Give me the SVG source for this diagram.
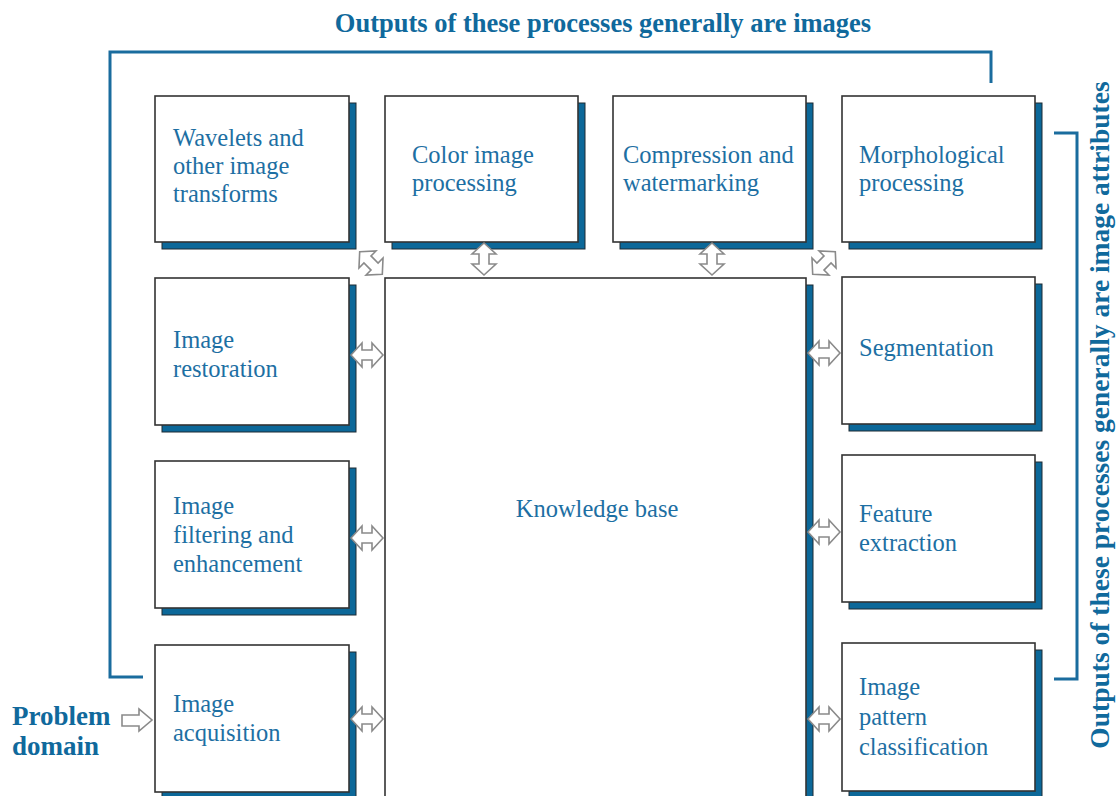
<svg xmlns="http://www.w3.org/2000/svg" width="1116" height="796" viewBox="0 0 1116 796">
<style>
.box{fill:#fff;stroke:#333;stroke-width:1.6}
.sh{fill:#0c6899;stroke:#1c2a33;stroke-width:1}
.t{font-family:"Liberation Serif","Times New Roman",serif;font-size:24.5px;fill:#1d6fa3}
.b{font-family:"Liberation Serif","Times New Roman",serif;font-weight:bold;fill:#10699c}
.br{fill:none;stroke:#1a6c9e;stroke-width:3}
.ar{fill:#fff;stroke:#8a8a8a;stroke-width:1.6;stroke-linejoin:miter}
</style>
<defs>
<path id="da" d="M-16,0 L-5,-12 L-5,-5 L5,-5 L5,-12 L16,0 L5,12 L5,5 L-5,5 L-5,12 Z"/>
</defs>
<rect width="1116" height="796" fill="#fff"/>

<g id="brackets">
<path class="br" d="M143,677 H110 V52 H991 V83"/>
<path class="br" d="M1054,133 H1077 V679 H1054"/>
</g>
<text class="b" x="603" y="32" font-size="26.5" text-anchor="middle">Outputs of these processes generally are images</text>
<text class="b" transform="translate(1109,415) rotate(-90)" font-size="27.5" text-anchor="middle">Outputs of these processes generally are image attributes</text>

<g id="problem-domain">
<text class="b" x="12" y="725" font-size="27">Problem</text>
<text class="b" x="12" y="755" font-size="27">domain</text>
</g>

<g id="knowledge-base">
<rect class="sh" x="392" y="285" width="421" height="530"/>
<rect class="box" x="385" y="278" width="421" height="530"/>
<text class="t" x="597" y="517" text-anchor="middle">Knowledge base</text>
</g>

<g id="wavelets">
<rect class="sh" x="162" y="103" width="194" height="146"/>
<rect class="box" x="155" y="96" width="194" height="146"/>
<text class="t" x="173" y="146">Wavelets and</text>
<text class="t" x="173" y="174">other image</text>
<text class="t" x="173" y="202">transforms</text>
</g>
<g id="color">
<rect class="sh" x="392" y="103" width="193" height="146"/>
<rect class="box" x="385" y="96" width="193" height="146"/>
<text class="t" x="412" y="163">Color image</text>
<text class="t" x="412" y="191">processing</text>
</g>
<g id="compression">
<rect class="sh" x="620" y="103" width="193" height="146"/>
<rect class="box" x="613" y="96" width="193" height="146"/>
<text class="t" x="623" y="163">Compression and</text>
<text class="t" x="623" y="191">watermarking</text>
</g>
<g id="morphological">
<rect class="sh" x="849" y="103" width="193" height="146"/>
<rect class="box" x="842" y="96" width="193" height="146"/>
<text class="t" x="859" y="163">Morphological</text>
<text class="t" x="859" y="191">processing</text>
</g>
<g id="restoration">
<rect class="sh" x="162" y="285" width="194" height="147"/>
<rect class="box" x="155" y="278" width="194" height="147"/>
<text class="t" x="173" y="348">Image</text>
<text class="t" x="173" y="377">restoration</text>
</g>
<g id="segmentation">
<rect class="sh" x="849" y="284" width="193" height="147"/>
<rect class="box" x="842" y="277" width="193" height="147"/>
<text class="t" x="859" y="356">Segmentation</text>
</g>
<g id="filtering">
<rect class="sh" x="162" y="468" width="194" height="147"/>
<rect class="box" x="155" y="461" width="194" height="147"/>
<text class="t" x="173" y="514">Image</text>
<text class="t" x="173" y="543">filtering and</text>
<text class="t" x="173" y="572">enhancement</text>
</g>
<g id="feature">
<rect class="sh" x="849" y="462" width="193" height="147"/>
<rect class="box" x="842" y="455" width="193" height="147"/>
<text class="t" x="859" y="522">Feature</text>
<text class="t" x="859" y="551">extraction</text>
</g>
<g id="acquisition">
<rect class="sh" x="162" y="652" width="194" height="147"/>
<rect class="box" x="155" y="645" width="194" height="147"/>
<text class="t" x="173" y="712">Image</text>
<text class="t" x="173" y="741">acquisition</text>
</g>
<g id="classification">
<rect class="sh" x="849" y="650" width="193" height="148"/>
<rect class="box" x="842" y="643" width="193" height="148"/>
<text class="t" x="859" y="695">Image</text>
<text class="t" x="859" y="725">pattern</text>
<text class="t" x="859" y="755">classification</text>
</g>

<g id="connectors">
<path class="ar" d="M122,715 H139 V709 L152,720 L139,731 V726 H122 Z"/>
<use href="#da" class="ar" transform="translate(367,355)"/>
<use href="#da" class="ar" transform="translate(367,538)"/>
<use href="#da" class="ar" transform="translate(367,719)"/>
<use href="#da" class="ar" transform="translate(824,353)"/>
<use href="#da" class="ar" transform="translate(824,532)"/>
<use href="#da" class="ar" transform="translate(824,719)"/>
<use href="#da" class="ar" transform="translate(484,259) rotate(90)"/>
<use href="#da" class="ar" transform="translate(712,259) rotate(90)"/>
<use href="#da" class="ar" transform="translate(371,263) rotate(45)"/>
<use href="#da" class="ar" transform="translate(824,263) rotate(-45)"/>
</g>
</svg>
